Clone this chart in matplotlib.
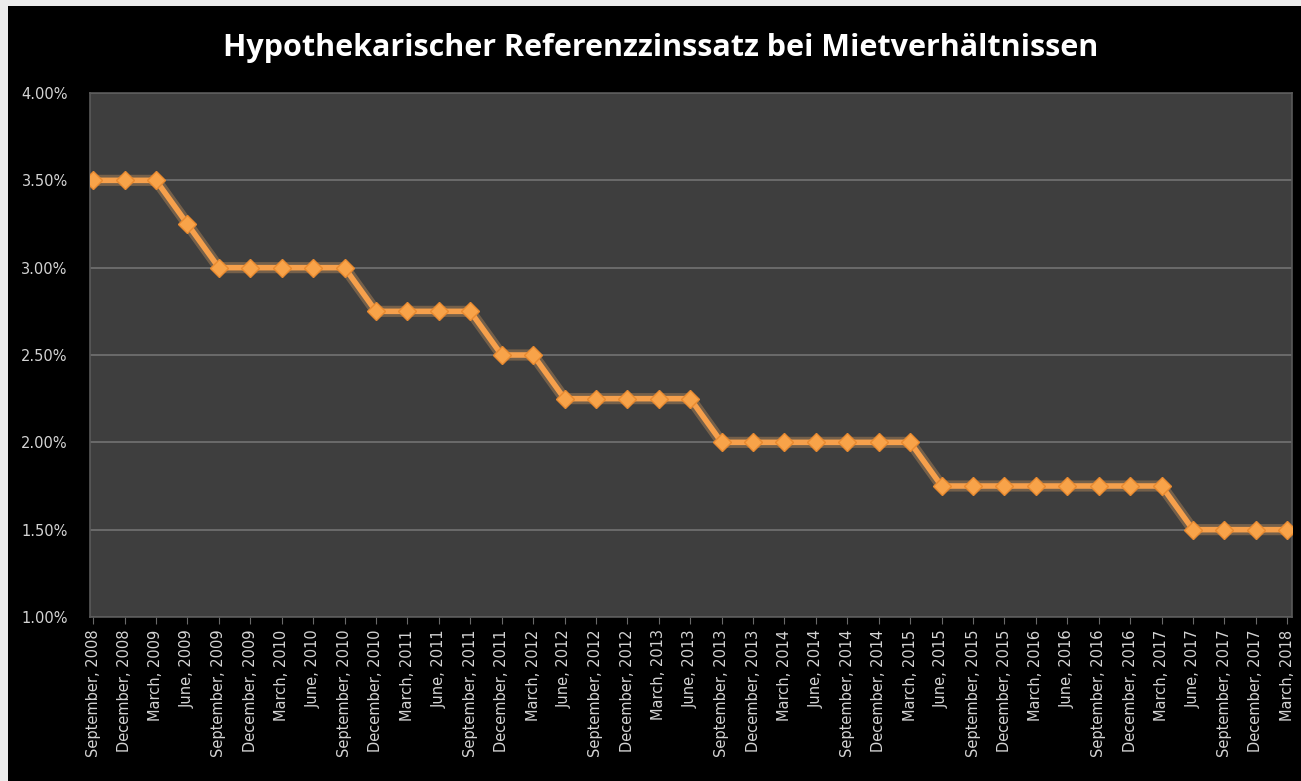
import matplotlib.pyplot as plt
from matplotlib.patches import Rectangle
from matplotlib.ticker import FuncFormatter

# quarterly reference rate dates
dates = [
    "September, 2008", "December, 2008", "March, 2009", "June, 2009",
    "September, 2009", "December, 2009", "March, 2010", "June, 2010",
    "September, 2010", "December, 2010", "March, 2011", "June, 2011",
    "September, 2011", "December, 2011", "March, 2012", "June, 2012",
    "September, 2012", "December, 2012", "March, 2013", "June, 2013",
    "September, 2013", "December, 2013", "March, 2014", "June, 2014",
    "September, 2014", "December, 2014", "March, 2015", "June, 2015",
    "September, 2015", "December, 2015", "March, 2016", "June, 2016",
    "September, 2016", "December, 2016", "March, 2017", "June, 2017",
    "September, 2017", "December, 2017", "March, 2018",
]
rate = [
    3.50, 3.50, 3.50, 3.25,
    3.00, 3.00, 3.00, 3.00,
    3.00, 2.75, 2.75, 2.75,
    2.75, 2.50, 2.50, 2.25,
    2.25, 2.25, 2.25, 2.25,
    2.00, 2.00, 2.00, 2.00,
    2.00, 2.00, 2.00, 1.75,
    1.75, 1.75, 1.75, 1.75,
    1.75, 1.75, 1.75, 1.50,
    1.50, 1.50, 1.50,
]
y_ticks = [1.0, 1.5, 2.0, 2.5, 3.0, 3.5, 4.0]

title = "Hypothekarischer Referenzzinssatz bei Mietverhältnissen"
W, H = 1301, 781

fig = plt.figure(figsize=(W / 100, H / 100), dpi=100, facecolor="#ececec")
# black chart background, light border only on the left and top
fig.patches.append(Rectangle((8 / W, 0), 1 - 8 / W, 1 - 6 / H,
                             transform=fig.transFigure, facecolor="black",
                             edgecolor="none", zorder=-10))

left, right, top, bottom = 90, 1292, 93, 617
ax = fig.add_axes([left / W, 1 - bottom / H, (right - left) / W, (bottom - top) / H])
ax.set_facecolor("#3e3e3e")
for side in ax.spines.values():
    side.set_color("#5a5a5a")
    side.set_linewidth(1.2)

x = list(range(len(dates)))
# soft glow under the line
ax.plot(x, rate, color="#f7b267", lw=8, alpha=0.3, zorder=3, solid_capstyle="round")
ax.plot(x, rate, color="#f6a04c", lw=4, zorder=4,
        marker="D", markersize=9, markerfacecolor="#f8a349",
        markeredgecolor="#e88a30", markeredgewidth=1.0)

ax.set_ylim(1.0, 4.0)
ax.set_xlim(-0.1, len(dates) - 0.85)
ax.set_yticks(y_ticks)
ax.yaxis.set_major_formatter(FuncFormatter(lambda v, p: f"{v:.2f}%"))
ax.grid(axis="y", color="#6e6e6e", lw=1.3)
ax.set_axisbelow(True)

ax.set_xticks(x)
ax.set_xticklabels(dates, rotation=90, fontsize=10.5, color="#d4d4d4",
                   family="DejaVu Sans")
ax.tick_params(axis="x", length=5, color="#6a6a6a", pad=4)
ax.tick_params(axis="y", length=0, pad=16, labelsize=10.5, labelcolor="#d4d4d4")

fig.text(661 / W, 1 - 48 / H, title, ha="center", va="center", color="white",
         fontsize=22, fontweight="bold", family="Open Sans")

fig.savefig("out.png", dpi=100, facecolor=fig.get_facecolor())
